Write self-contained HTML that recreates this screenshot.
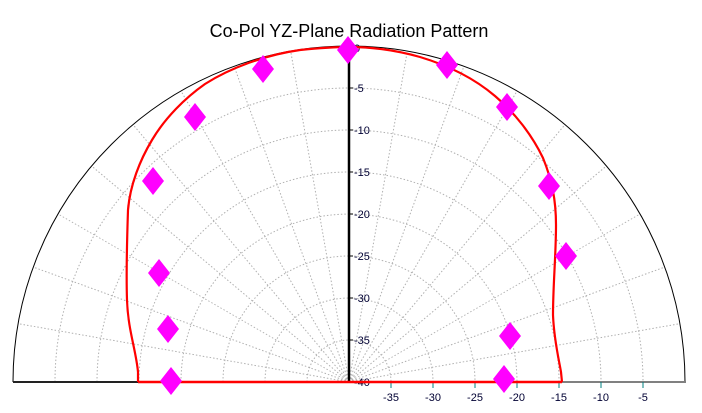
<!DOCTYPE html>
<html><head><meta charset="utf-8"><style>
html,body{margin:0;padding:0;background:#fff;width:702px;height:413px;overflow:hidden}
svg{display:block;font-family:"Liberation Sans",sans-serif}
</style></head><body>
<svg width="702" height="413" viewBox="0 0 702 413" xmlns="http://www.w3.org/2000/svg">
<text x="349" y="37" font-size="18" text-anchor="middle" fill="#000">Co-Pol YZ-Plane Radiation Pattern</text>
<g id="grid" stroke="#b0b0b0" stroke-width="1" stroke-dasharray="1.5,2" fill="none"></g>
<path d="M13,382 A336,336 0 0 1 685,382" stroke="#000" stroke-width="1" fill="none"/>
<line x1="13" y1="382" x2="349" y2="382" stroke="#222" stroke-width="2"/>
<line x1="349" y1="382" x2="686" y2="382" stroke="#808080" stroke-width="2"/>
<line x1="349" y1="47" x2="349" y2="382" stroke="#000" stroke-width="2.5"/>
<g id="ticks" stroke="#008080" stroke-width="1"></g>
<g id="lbl" font-size="11" fill="#000033"></g>
<path d="M138,382 L138,372 C136,350 128,330 127,300 C126,270 127,240 128,210 C130,185 140,160 152,140 C165,118 185,98 205,84 C230,68 265,55 300,50 C320,48 335,47 349,47 C370,47 395,50 420,57 C450,66 475,79 495,96 C515,113 532,135 543,158 C552,180 556,200 556,225 C556,255 553,285 553,315 C554,340 559,360 561,372 L562,382" stroke="#ff0000" stroke-width="2.2" fill="none"/>
<line x1="138" y1="382" x2="562" y2="382" stroke="#ff0000" stroke-width="2.5"/>
<g id="mk" fill="#ff00ff"></g>
</svg>
<script>
var cx=349,cy=382,R=336,ns="http://www.w3.org/2000/svg";
function el(p,t,a){var e=document.createElementNS(ns,t);for(var k in a)e.setAttribute(k,a[k]);document.getElementById(p).appendChild(e);return e;}
for(var i=1;i<8;i++){var r=R*i/8;el("grid","path",{d:"M"+(cx-r)+","+cy+" A"+r+","+r+" 0 0 1 "+(cx+r)+","+cy});}
for(var a=10;a<180;a+=10){if(a==90)continue;var t=a*Math.PI/180;el("grid","line",{x1:cx,y1:cy,x2:cx+R*Math.cos(t),y2:cy-R*Math.sin(t)});}
for(var i=1;i<8;i++){var v=-40+5*i;var x=cx+R*i/8;el("ticks","line",{x1:x,y1:382,x2:x,y2:388});var t=el("lbl","text",{x:x,y:401,"text-anchor":"middle"});t.textContent=v;
var y=cy-R*i/8;el("lbl","line",{x1:cx,y1:y,x2:cx+4,y2:y,stroke:"#000"});var t2=el("lbl","text",{x:cx+5,y:y+4});t2.textContent=v;}
var t3=el("lbl","text",{x:cx+5,y:52});t3.textContent="0";var t4=el("lbl","text",{x:cx+5,y:386});t4.textContent="-40";
var pts=[[348,50],[263,69],[195,117],[153,181],[159,273],[168,329],[171,381],[447,65],[507,107],[549,186],[566,256],[510,336],[504,379]];
pts.forEach(function(p){var x=p[0],y=p[1];el("mk","polygon",{points:(x)+","+(y-14)+" "+(x+11)+","+y+" "+x+","+(y+14)+" "+(x-11)+","+y});});
</script>
</body></html>
